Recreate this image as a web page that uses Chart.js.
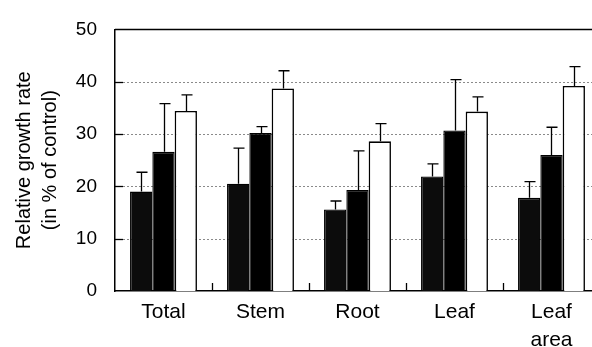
<!DOCTYPE html>
<html><head><meta charset="utf-8">
<script src="https://cdn.jsdelivr.net/npm/chart.js@4"></script>
<style>
html,body{margin:0;padding:0;overflow:hidden;background:#fff}
#wrap{width:600px;height:347px;position:relative}
</style>
</head><body><div id="wrap"><canvas id="c"></canvas></div>
<script>
const categories = [['Total'], ['Stem'], ['Root'], ['Leaf'], ['Leaf', 'area']];
const seriesA = [19.0, 20.5, 15.6, 21.9, 17.8];
const seriesB = [26.6, 30.2, 19.3, 30.7, 26.0];
const seriesC = [34.4, 38.7, 28.6, 34.3, 39.2];
// upper ends of the error bars
const errTopA = [22.7, 27.3, 17.2, 24.3, 20.9];
const errTopB = [35.8, 31.4, 26.8, 40.4, 31.3];
const errTopC = [37.5, 42.1, 32.0, 37.1, 42.9];
const yTickValues = [0, 10, 20, 30, 40, 50];
const yTitle = ['Relative growth rate', '(in % of control)'];

const FONT = '"Liberation Sans", Arial, Helvetica, sans-serif';

const decor = {
  id: 'decor',
  beforeDatasetsDraw(chart) {
    const ctx = chart.ctx, a = chart.chartArea, x = chart.scales.x, y = chart.scales.y;
    ctx.save();
    // dotted gridlines
    ctx.strokeStyle = '#8a8a8a';
    ctx.lineWidth = 1;
    ctx.setLineDash([2, 2]);
    yTickValues.forEach(v => {
      if (v === 0 || v === 50) return;
      const py = Math.round(y.getPixelForValue(v)) + 0.5;
      ctx.beginPath(); ctx.moveTo(a.left, py); ctx.lineTo(a.right, py); ctx.stroke();
    });
    ctx.setLineDash([]);
    // inward y ticks
    ctx.strokeStyle = '#000';
    ctx.lineWidth = 1.3;
    yTickValues.forEach(v => {
      if (v === 0 || v === 50) return;
      const py = Math.round(y.getPixelForValue(v)) + 0.5;
      ctx.beginPath(); ctx.moveTo(a.left, py); ctx.lineTo(a.left + 8, py); ctx.stroke();
    });
    // inward x ticks at category boundaries
    for (let i = 0; i < categories.length - 1; i++) {
      const px = Math.round((x.getPixelForValue(i) + x.getPixelForValue(i + 1)) / 2) + 0.5;
      ctx.beginPath(); ctx.moveTo(px, a.bottom); ctx.lineTo(px, a.bottom - 8); ctx.stroke();
    }
    // top frame line
    ctx.lineWidth = 1.5;
    const pt = y.getPixelForValue(50);
    ctx.beginPath(); ctx.moveTo(a.left, pt); ctx.lineTo(a.right, pt); ctx.stroke();
    ctx.restore();
  },
  afterDatasetsDraw(chart) {
    const ctx = chart.ctx, y = chart.scales.y;
    const tops = [errTopA, errTopB, errTopC];
    ctx.save();
    ctx.strokeStyle = '#000';
    ctx.lineWidth = 1.3;
    chart.data.datasets.forEach((ds, di) => {
      const meta = chart.getDatasetMeta(di);
      meta.data.forEach((bar, i) => {
        const x = Math.round(bar.x) + 0.5;
        const yt = y.getPixelForValue(tops[di][i]);
        ctx.beginPath();
        ctx.moveTo(x, bar.y); ctx.lineTo(x, yt);
        ctx.moveTo(x - 5, yt); ctx.lineTo(x + 6, yt);
        ctx.stroke();
      });
    });
    ctx.restore();
  }
};

new Chart(document.getElementById('c'), {
  type: 'bar',
  data: {
    labels: categories,
    datasets: [
      { data: seriesA, backgroundColor: '#0c0c0c', borderColor: '#000', borderWidth: 1.3 },
      { data: seriesB, backgroundColor: '#000000', borderColor: '#000', borderWidth: 1.3 },
      { data: seriesC, backgroundColor: '#ffffff', borderColor: '#000', borderWidth: 1.6 }
    ]
  },
  options: {
    responsive: true,
    maintainAspectRatio: false,
    animation: false,
    events: [],
    layout: { padding: { top: 22, left: 0, right: 0, bottom: 0 } },
    plugins: { legend: { display: false }, tooltip: { enabled: false } },
    datasets: { bar: { categoryPercentage: 0.69, barPercentage: 1.0, borderSkipped: 'start' } },
    scales: {
      x: {
        grid: { display: false, drawTicks: false },
        border: { display: true, color: '#000', width: 1.5 },
        ticks: { color: '#000', padding: 8, maxRotation: 0, autoSkip: false,
                 font: { family: FONT, size: 21, lineHeight: 1.3 } },
        afterFit(s) { s.height = 56; }
      },
      y: {
        min: 0, max: 50,
        afterBuildTicks(s) { s.ticks = yTickValues.map(v => ({ value: v })); },
        grid: { display: false, drawTicks: false },
        border: { display: true, color: '#000', width: 1.5 },
        ticks: { color: '#000', padding: 18, font: { family: FONT, size: 19 } },
        title: { display: true, text: yTitle, color: '#000', padding: { top: 11, bottom: 0 },
                 font: { family: FONT, size: 20, lineHeight: 1.3 } },
        afterFit(s) { s.width = 115; }
      }
    }
  },
  plugins: [decor]
});
</script>
</body></html>
